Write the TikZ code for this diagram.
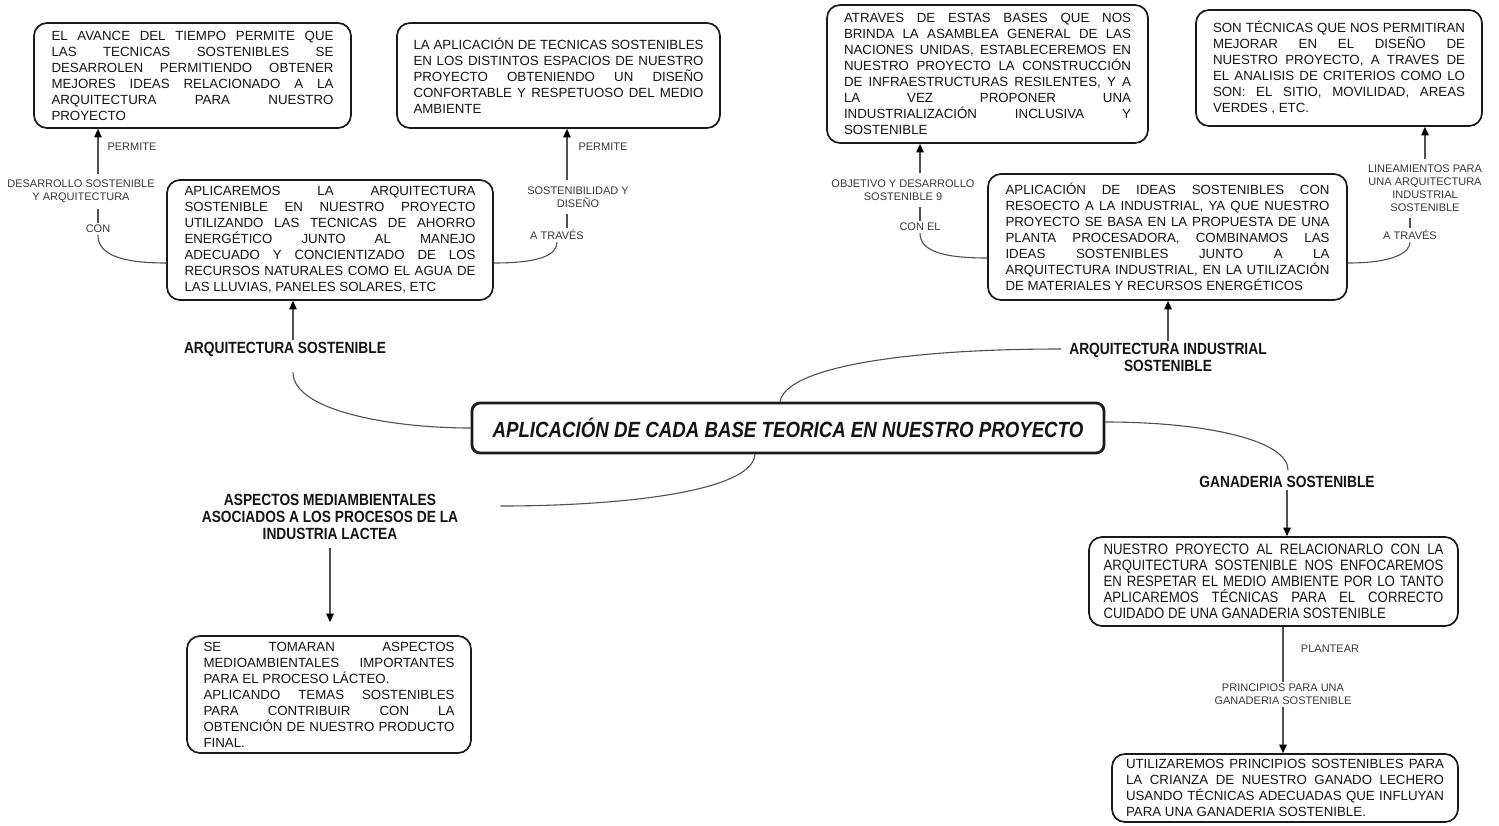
\documentclass[tikz,border=0pt]{standalone}
\usepackage{fontspec}
\setmainfont{Liberation Sans}
\newfontfamily\narrowfont[FakeStretch=0.85]{Liberation Sans}
\newfontfamily\condfont[FakeStretch=0.88]{Liberation Sans}
\usetikzlibrary{arrows.meta,calc}

\definecolor{ink}{HTML}{141414}
\definecolor{frame}{HTML}{1A1A1A}
\definecolor{wirecol}{HTML}{505050}
\definecolor{notecol}{HTML}{383838}

\newcommand\parsetup{\tolerance=10000\hbadness=10000\hyphenpenalty=10000\emergencystretch=20pt}
\newcommand\boxtext{\fontsize{13.3}{16}\selectfont\parsetup}
\newcommand\condtext{\condfont\fontsize{15}{16}\selectfont\parsetup}

\tikzset{
  card/.style={draw=frame, line width=1.7pt, rounded corners=13pt, fill=white,
    inner xsep=0pt, inner ysep=0pt, align=justify, text=ink, font=\boxtext},
  head/.style={font=\narrowfont\bfseries\fontsize{16.2}{17}\selectfont,
    align=center, text=ink, inner sep=2pt},
  note/.style={font=\fontsize{11}{13}\selectfont, align=center, text=notecol, inner sep=2pt},
  wire/.style={draw=wirecol, line width=1.1pt},
  pointer/.style={wire, -{Triangle[length=8.5pt,width=7.5pt,color=black]}}
}

\begin{document}
\begin{tikzpicture}[x=1pt,y=-1pt]
\fill[white] (0,0) rectangle (1499,825);
\useasboundingbox (0,0) rectangle (1499,825);

% central topic
\node[draw=frame, line width=2.8pt, rounded corners=8pt, fill=white,
      minimum width=632pt, minimum height=50pt, text=ink,
      font=\narrowfont\bfseries\itshape\fontsize{22}{24}\selectfont] (center) at (788,428)
  {APLICACIÓN DE CADA BASE TEORICA EN NUESTRO PROYECTO};

% branch headings
\node[head] (hAS) at (285,349) {ARQUITECTURA SOSTENIBLE};
\node[head] (hAI) at (1168,357.5) {ARQUITECTURA INDUSTRIAL\\SOSTENIBLE};
\node[head] (hGS) at (1287,482) {GANADERIA SOSTENIBLE};
\node[head] (hMA) at (330,517) {ASPECTOS MEDIAMBIENTALES\\ASOCIADOS A LOS PROCESOS DE LA\\INDUSTRIA LACTEA};

% text cards
\node[card, text width=282pt, minimum width=317pt, minimum height=105pt] (A1) at (192.5,75.5)
  {EL AVANCE DEL TIEMPO PERMITE QUE \linebreak LAS TECNICAS SOSTENIBLES SE \linebreak
   DESARROLEN PERMITIENDO OBTENER \linebreak MEJORES IDEAS RELACIONADO A LA \linebreak
   ARQUITECTURA PARA NUESTRO \linebreak PROYECTO};

\node[card, text width=290pt, minimum width=323pt, minimum height=105pt] (A2) at (558.5,75.5)
  {LA APLICACIÓN DE TECNICAS SOSTENIBLES \linebreak EN LOS DISTINTOS ESPACIOS DE NUESTRO \linebreak
   PROYECTO OBTENIENDO UN DISEÑO \linebreak CONFORTABLE Y RESPETUOSO DEL MEDIO \linebreak
   AMBIENTE};

\node[card, text width=291pt, minimum width=326pt, minimum height=120pt] (A3) at (330,240)
  {APLICAREMOS LA ARQUITECTURA \linebreak SOSTENIBLE EN NUESTRO PROYECTO \linebreak
   UTILIZANDO LAS TECNICAS DE AHORRO \linebreak ENERGÉTICO JUNTO AL MANEJO \linebreak
   ADECUADO Y CONCIENTIZADO DE LOS \linebreak RECURSOS NATURALES COMO EL AGUA DE \linebreak
   LAS LLUVIAS, PANELES SOLARES, ETC};

\node[card, text width=287pt, minimum width=321pt, minimum height=138pt] (B1) at (987.5,74)
  {ATRAVES DE ESTAS BASES QUE NOS \linebreak BRINDA LA ASAMBLEA GENERAL DE LAS \linebreak
   NACIONES UNIDAS, ESTABLECEREMOS EN \linebreak NUESTRO PROYECTO LA CONSTRUCCIÓN \linebreak
   DE INFRAESTRUCTURAS RESILENTES, Y A \linebreak LA VEZ PROPONER UNA \linebreak
   INDUSTRIALIZACIÓN INCLUSIVA Y \linebreak SOSTENIBLE};

\node[card, text width=252pt, minimum width=286pt, minimum height=116pt] (B2) at (1339,68)
  {SON TÉCNICAS QUE NOS PERMITIRAN \linebreak MEJORAR EN EL DISEÑO DE \linebreak
   NUESTRO PROYECTO, A TRAVES DE \linebreak EL ANALISIS DE CRITERIOS COMO LO \linebreak
   SON: EL SITIO, MOVILIDAD, AREAS \linebreak VERDES , ETC.};

\node[card, text width=324pt, minimum width=359pt, minimum height=126pt] (B3) at (1167.5,237)
  {APLICACIÓN DE IDEAS SOSTENIBLES CON \linebreak RESOECTO A LA INDUSTRIAL, YA QUE NUESTRO \linebreak
   PROYECTO SE BASA EN LA PROPUESTA DE UNA \linebreak PLANTA PROCESADORA, COMBINAMOS LAS \linebreak
   IDEAS SOSTENIBLES JUNTO A LA \linebreak ARQUITECTURA INDUSTRIAL, EN LA UTILIZACIÓN \linebreak
   DE MATERIALES Y RECURSOS ENERGÉTICOS};

\node[card, text width=251pt, minimum width=284pt, minimum height=117pt] (C1) at (329,694.5)
  {SE TOMARAN ASPECTOS \linebreak MEDIOAMBIENTALES IMPORTANTES \linebreak
   PARA EL PROCESO LÁCTEO.\hfil\break APLICANDO TEMAS SOSTENIBLES \linebreak
   PARA CONTRIBUIR CON LA \linebreak OBTENCIÓN DE NUESTRO PRODUCTO \linebreak FINAL.};

\node[card, font=\condtext, text width=340pt, minimum width=369pt, minimum height=89pt] (D1) at (1273.5,581.5)
  {NUESTRO PROYECTO AL RELACIONARLO CON LA \linebreak ARQUITECTURA SOSTENIBLE NOS ENFOCAREMOS \linebreak
   EN RESPETAR EL MEDIO AMBIENTE POR LO TANTO \linebreak APLICAREMOS TÉCNICAS PARA EL CORRECTO \linebreak
   CUIDADO DE UNA GANADERIA SOSTENIBLE};

\node[card, text width=318pt, minimum width=346pt, minimum height=68pt] (E1) at (1285,788)
  {UTILIZAREMOS PRINCIPIOS SOSTENIBLES PARA \linebreak LA CRIANZA DE NUESTRO GANADO LECHERO \linebreak
   USANDO TÉCNICAS ADECUADAS QUE INFLUYAN \linebreak PARA UNA GANADERIA SOSTENIBLE.};

% connector labels
\node[note] (nPerm1) at (132,147) {PERMITE};
\node[note] (nDS) at (81,191.5) {DESARROLLO SOSTENIBLE\\Y ARQUITECTURA};
\node[note] (nCon) at (98,229) {CON};
\node[note] (nPerm2) at (603,147) {PERMITE};
\node[note] (nSD) at (578,197) {SOSTENIBILIDAD Y\\DISEÑO};
\node[note] (nAT1) at (557,235) {A TRAVÉS};
\node[note] (nOD) at (903,190) {OBJETIVO Y DESARROLLO\\SOSTENIBLE 9};
\node[note] (nConEl) at (920,227) {CON EL};
\node[note] (nLin) at (1425,188.5) {LINEAMIENTOS PARA\\UNA ARQUITECTURA\\INDUSTRIAL\\SOSTENIBLE};
\node[note] (nAT2) at (1410,235) {A TRAVÉS};
\node[note] (nPlan) at (1330,649) {PLANTEAR};
\node[note] (nPrin) at (1283,694.5) {PRINCIPIOS PARA UNA\\GANADERIA SOSTENIBLE};

% attachment points
\coordinate (pAS) at ($(hAS.north)+(8,0)$);
\coordinate (sA2) at (567,0);

% branches from the central topic
\draw[wire] ($(hAS.south)+(8,14)$) .. controls +(0,38) and (390,428) .. (center.west);
\draw[wire] ($(center.north)+(-8,0)$) .. controls (786,368) and (900,349) .. ($(hAI.west)+(-6,-8.5)$);
\draw[wire] ($(center.east)+(0,-6)$) .. controls (1205,422) and (1288,440) .. ($(hGS.north)+(1,-4)$);
\draw[wire] ($(center.south)+(-33,0)$) .. controls (752,492) and (620,506) .. ($(hMA.east)+(40,-11)$);

% headings to their cards
\draw[pointer] (pAS) -- (pAS |- A3.south);
\draw[pointer] (hAI.north) -- (hAI.north |- B3.south);
\draw[pointer] (hGS.south) -- (hGS.south |- D1.north);
\draw[pointer, shorten >=13pt, shorten <=6pt] (hMA.south) -- (hMA.south |- C1.north);

% left card links
\draw[wire] ($(A3.west)+(0,23)$) .. controls (115,263) and (98,252) .. (nCon.south);
\draw[wire, shorten >=4pt] (nCon.north) -- (nCon.north |- nDS.south);
\draw[pointer, shorten <=4pt] (nCon.north |- nDS.north) -- (nCon.north |- A1.south);

\draw[wire] ($(A3.east)+(0,23)$) .. controls (540,263) and (557,255) .. (nAT1.south);
\draw[wire, shorten >=4pt] (nAT1.north -| sA2) -- (nSD.south -| sA2);
\draw[pointer, shorten <=4pt] (nSD.north -| sA2) -- (A2.south -| sA2);

% right card links
\draw[wire] ($(B3.west)+(0,21)$) .. controls (940,258) and (920,250) .. (nConEl.south);
\draw[wire, shorten >=4pt] (nConEl.north) -- (nConEl.north |- nOD.south);
\draw[pointer, shorten <=4pt] (nConEl.north |- nOD.north) -- (nConEl.north |- B1.south);

\draw[wire] ($(B3.east)+(0,26)$) .. controls (1395,263) and (1410,252) .. (nAT2.south);
\draw[wire, shorten >=4pt] (nAT2.north) -- (nAT2.north |- nLin.south);
\draw[pointer, shorten <=4pt] (nLin.north) -- (nLin.north |- B2.south);

% livestock chain
\draw[wire] (nPrin.north |- D1.south) -- (nPrin.north);
\draw[pointer] (nPrin.south) -- (nPrin.south |- E1.north);

\end{tikzpicture}
\end{document}
